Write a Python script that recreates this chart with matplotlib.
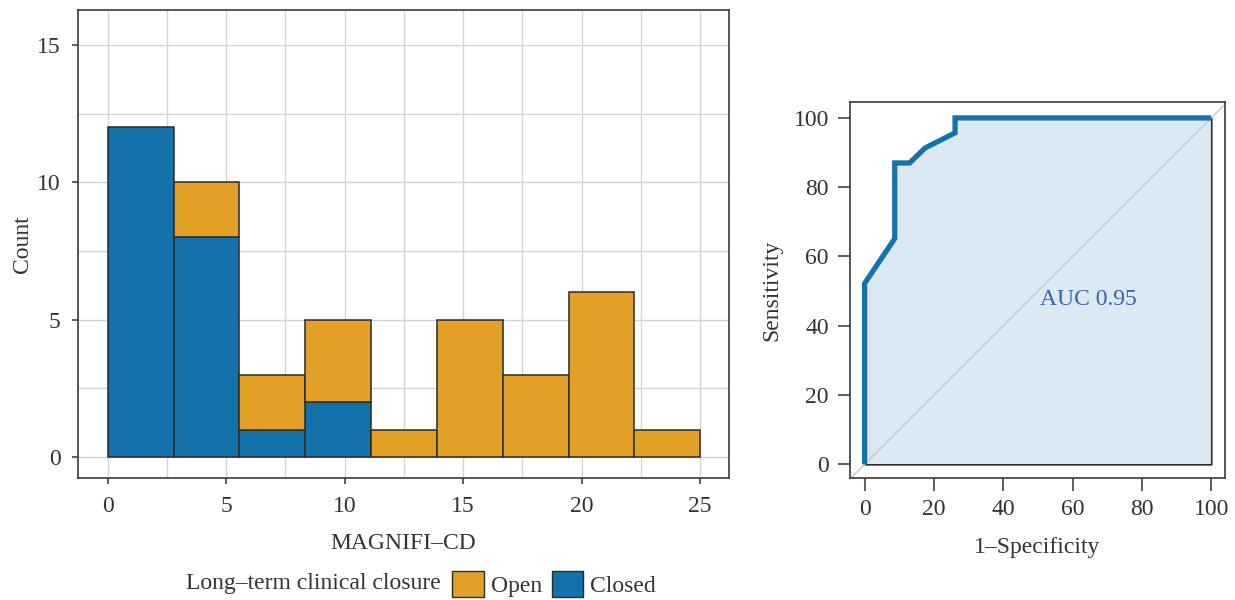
import numpy as np
import matplotlib
matplotlib.use("Agg")
import matplotlib.pyplot as plt
from matplotlib.patches import Patch
from matplotlib.ticker import MultipleLocator

plt.rcParams['font.family'] = ['Liberation Serif', 'DejaVu Serif']
plt.rcParams['font.size'] = 17
plt.rcParams['text.color'] = '#333333'
plt.rcParams['axes.labelcolor'] = '#333333'
plt.rcParams['xtick.color'] = '#333333'
plt.rcParams['ytick.color'] = '#333333'

# histogram of MAGNIFI-CD, 9 bins over 0..25
bin_lo, bin_hi, n_bins = 0, 25, 9
closed_counts = [12, 8, 1, 2, 0, 0, 0, 0, 0]
open_counts = [0, 2, 2, 3, 1, 5, 3, 6, 1]
group_labels = ['Open', 'Closed']
open_color = '#E2A027'
closed_color = '#1571AA'

# ROC curve (percent)
fpr = [0, 0, 8.7, 8.7, 13.0, 17.4, 26.1, 26.1, 100]
tpr = [0, 52.2, 65.2, 87.0, 87.0, 91.3, 95.7, 100, 100]
auc_text = 'AUC 0.95'

edge = '#2b2b2b'
grid_c = '#d4d4d4'

fig = plt.figure(figsize=(12.35, 6), dpi=100)

# ---- left: stacked histogram ----
ax = fig.add_axes([0.0632, 0.203, 0.5268, 0.780])
edges = np.linspace(bin_lo, bin_hi, n_bins + 1)
w = edges[1] - edges[0]
closed = np.array(closed_counts)
opened = np.array(open_counts)
m = closed > 0
ax.bar(edges[:-1][m], closed[m], width=w, align='edge', color=closed_color,
       edgecolor=edge, linewidth=1.1, zorder=3)
m = opened > 0
ax.bar(edges[:-1][m], opened[m], bottom=closed[m], width=w, align='edge',
       color=open_color, edgecolor=edge, linewidth=1.1, zorder=3)

ax.set_xlim(-1.25, 26.2)
ax.set_ylim(-0.77, 16.27)
ax.set_xticks([0, 5, 10, 15, 20, 25])
ax.set_yticks([0, 5, 10, 15])
ax.xaxis.set_minor_locator(MultipleLocator(2.5))
ax.yaxis.set_minor_locator(MultipleLocator(2.5))
ax.grid(True, which='both', color=grid_c, linewidth=1.0, zorder=0)
ax.tick_params(which='minor', length=0)
ax.tick_params(which='major', length=4.5, width=1.1, direction='out', pad=8)
for s in ax.spines.values():
    s.set_color('#3a3a3a')
    s.set_linewidth(1.2)
ax.set_xlabel('MAGNIFI–CD', labelpad=12)
ax.set_ylabel('Count', labelpad=3)

# legend below the histogram
fig.text(0.357, 0.028, 'Long–term clinical closure', ha='right', va='center', fontsize=17)
handles = [Patch(facecolor=open_color, edgecolor=edge, linewidth=1.0),
           Patch(facecolor=closed_color, edgecolor=edge, linewidth=1.0)]
fig.legend(handles, group_labels, loc='center left', bbox_to_anchor=(0.366, 0.027),
           ncol=2, frameon=False, handlelength=1.35, handleheight=1.35,
           handletextpad=0.3, columnspacing=0.4, borderaxespad=0, borderpad=0,
           fontsize=17)

# ---- right: ROC curve ----
ax2 = fig.add_axes([0.688, 0.203, 0.304, 0.627])
ax2.fill_between(fpr, tpr, 0, facecolor='#dde9f2', edgecolor=edge,
                 linewidth=1.2, zorder=1)
ax2.axline((0, 0), (100, 100), color='#c8c8c8', linewidth=1.0, zorder=2)
ax2.plot(fpr, tpr, color='#1672AB', linewidth=3.8, zorder=3,
         solid_joinstyle='miter', solid_capstyle='butt')
ax2.text(64.5, 47.5, auc_text, color='#3A64A8', fontsize=17, ha='center', va='center',
         zorder=4)
ax2.set_xlim(-4.3, 104)
ax2.set_ylim(-4.0, 104.6)
ax2.set_xticks(range(0, 101, 20))
ax2.set_yticks(range(0, 101, 20))
ax2.tick_params(length=9, width=1.1, direction='out', pad=6)
for s in ax2.spines.values():
    s.set_color('#3a3a3a')
    s.set_linewidth(1.2)
ax2.set_xlabel('1–Specificity', labelpad=12)
ax2.set_ylabel('Sensitivity', labelpad=8)

fig.savefig('out.png', dpi=100)
